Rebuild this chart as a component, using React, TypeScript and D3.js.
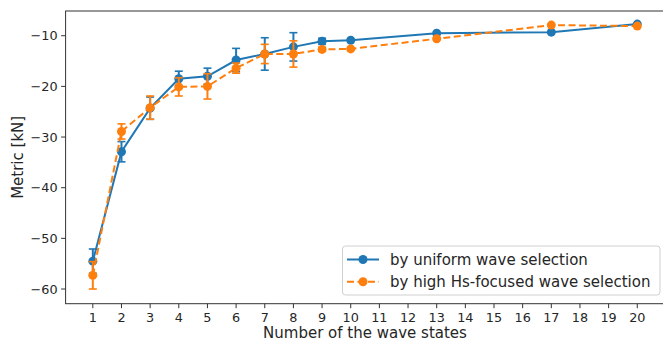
import React, { useEffect, useRef } from "react";
import * as d3 from "d3";

// number of wave states on the x axis
const waveStates = [1, 2, 3, 4, 5, 6, 7, 8, 9, 10, 13, 17, 20];
const xTicks = d3.range(1, 21);
const yTicks = [-60, -50, -40, -30, -20, -10];

// by uniform wave selection
const uniformMean = [-54.5, -32.9, -24.3, -18.5, -18.0, -14.8, -13.6, -12.2, -11.1, -10.9, -9.5, -9.3, -7.7];
const uniformErr = [2.4, 2.0, 2.2, 1.5, 1.6, 2.3, 3.2, 2.8, 0.6, 0, 0, 0, 0];

// by high Hs-focused wave selection
const focusedMean = [-57.3, -28.9, -24.2, -20.1, -20.0, -16.4, -13.6, -13.6, -12.7, -12.6, -10.6, -7.9, -8.1];
const focusedErr = [2.7, 1.5, 2.3, 1.8, 2.5, 1.0, 1.9, 2.6, 0.4, 0, 0, 0, 0];

const seriesNames = ["by uniform wave selection", "by high Hs-focused wave selection"];
const seriesColors = ["#1f77b4", "#ff7f0e"];

export default function App() {
  const ref = useRef<SVGSVGElement>(null);

  useEffect(() => {
    if (!ref.current) return;
    const W = 663;
    const H = 347;
    const left = 65.6;
    const right = 664.5;
    const top = 11;
    const bottom = 303.7;
    const font = "DejaVu Sans, sans-serif";
    const textColor = "#262626";
    const tickSize = 12.8;
    const labelSize = 15;

    const svg = d3.select(ref.current);
    svg.selectAll("*").remove();
    svg.append("rect").attr("width", W).attr("height", H).attr("fill", "#ffffff");

    const x = d3.scaleLinear().domain([0.05, 20.95]).range([left, right]);
    const y = d3.scaleLinear().domain([-62.9, -5.12]).range([bottom, top]);

    // spines
    svg
      .append("rect")
      .attr("x", left)
      .attr("y", top)
      .attr("width", right - left)
      .attr("height", bottom - top)
      .attr("fill", "none")
      .attr("stroke", "#333")
      .attr("stroke-width", 1);

    // x ticks
    const xt = svg.append("g");
    xTicks.forEach((t) => {
      xt.append("line")
        .attr("x1", x(t))
        .attr("x2", x(t))
        .attr("y1", bottom)
        .attr("y2", bottom + 4.5)
        .attr("stroke", "#333");
      xt.append("text")
        .attr("x", x(t))
        .attr("y", bottom + 18.6)
        .attr("text-anchor", "middle")
        .attr("font-family", font)
        .attr("font-size", tickSize)
        .attr("fill", textColor)
        .text(String(t));
    });

    // y ticks
    const yt = svg.append("g");
    yTicks.forEach((t) => {
      yt.append("line")
        .attr("x1", left - 4.5)
        .attr("x2", left)
        .attr("y1", y(t))
        .attr("y2", y(t))
        .attr("stroke", "#333");
      yt.append("text")
        .attr("x", left - 8)
        .attr("y", y(t))
        .attr("dy", "0.36em")
        .attr("text-anchor", "end")
        .attr("font-family", font)
        .attr("font-size", tickSize)
        .attr("fill", textColor)
        .text(String(t).replace("-", "\u2212"));
    });

    // axis labels
    svg
      .append("text")
      .attr("x", 365)
      .attr("y", 338)
      .attr("text-anchor", "middle")
      .attr("font-family", font)
      .attr("font-size", labelSize)
      .attr("fill", textColor)
      .text("Number of the wave states");

    svg
      .append("text")
      .attr("transform", `translate(23, ${(top + bottom) / 2}) rotate(-90)`)
      .attr("text-anchor", "middle")
      .attr("font-family", font)
      .attr("font-size", labelSize)
      .attr("fill", textColor)
      .text("Metric [kN]");

    const line = d3
      .line<number>()
      .x((_, i) => x(waveStates[i]))
      .y((d) => y(d));

    const series = [
      { mean: uniformMean, err: uniformErr, dash: null as string | null },
      { mean: focusedMean, err: focusedErr, dash: "7,3.5" },
    ];

    series.forEach((s, k) => {
      const color = seriesColors[k];
      const g = svg.append("g");
      // error bars
      s.mean.forEach((m, i) => {
        if (!s.err[i]) return;
        const cx = x(waveStates[i]);
        const y1 = y(m - s.err[i]);
        const y2 = y(m + s.err[i]);
        g.append("line")
          .attr("x1", cx)
          .attr("x2", cx)
          .attr("y1", y1)
          .attr("y2", y2)
          .attr("stroke", color)
          .attr("stroke-width", 2);
        [y1, y2].forEach((yy) => {
          g.append("line")
            .attr("x1", cx - 4)
            .attr("x2", cx + 4)
            .attr("y1", yy)
            .attr("y2", yy)
            .attr("stroke", color)
            .attr("stroke-width", 1.6);
        });
      });
      g.append("path")
        .attr("d", line(s.mean))
        .attr("fill", "none")
        .attr("stroke", color)
        .attr("stroke-width", 2)
        .attr("stroke-dasharray", s.dash);
      g.selectAll("circle")
        .data(s.mean)
        .join("circle")
        .attr("cx", (_, i) => x(waveStates[i]))
        .attr("cy", (d) => y(d))
        .attr("r", 4.5)
        .attr("fill", color);
    });

    // legend
    const lg = svg.append("g");
    lg.append("rect")
      .attr("x", 342.5)
      .attr("y", 246)
      .attr("width", 317.5)
      .attr("height", 49)
      .attr("rx", 3)
      .attr("fill", "#ffffff")
      .attr("fill-opacity", 0.85)
      .attr("stroke", "#d0d0d0");
    seriesNames.forEach((name, k) => {
      const ly = 259.5 + k * 22.3;
      lg.append("line")
        .attr("x1", 347)
        .attr("x2", 379)
        .attr("y1", ly)
        .attr("y2", ly)
        .attr("stroke", seriesColors[k])
        .attr("stroke-width", 2)
        .attr("stroke-dasharray", k === 1 ? "7,3.5" : null);
      lg.append("circle").attr("cx", 363).attr("cy", ly).attr("r", 4.5).attr("fill", seriesColors[k]);
      lg.append("text")
        .attr("x", 390)
        .attr("y", ly)
        .attr("dy", "0.36em")
        .attr("font-family", font)
        .attr("font-size", labelSize)
        .attr("fill", textColor)
        .text(name);
    });
  }, []);

  return (
    <svg
      ref={ref}
      width={663}
      height={347}
      style={{ position: "absolute", left: 0, top: 0, display: "block" }}
    />
  );
}
